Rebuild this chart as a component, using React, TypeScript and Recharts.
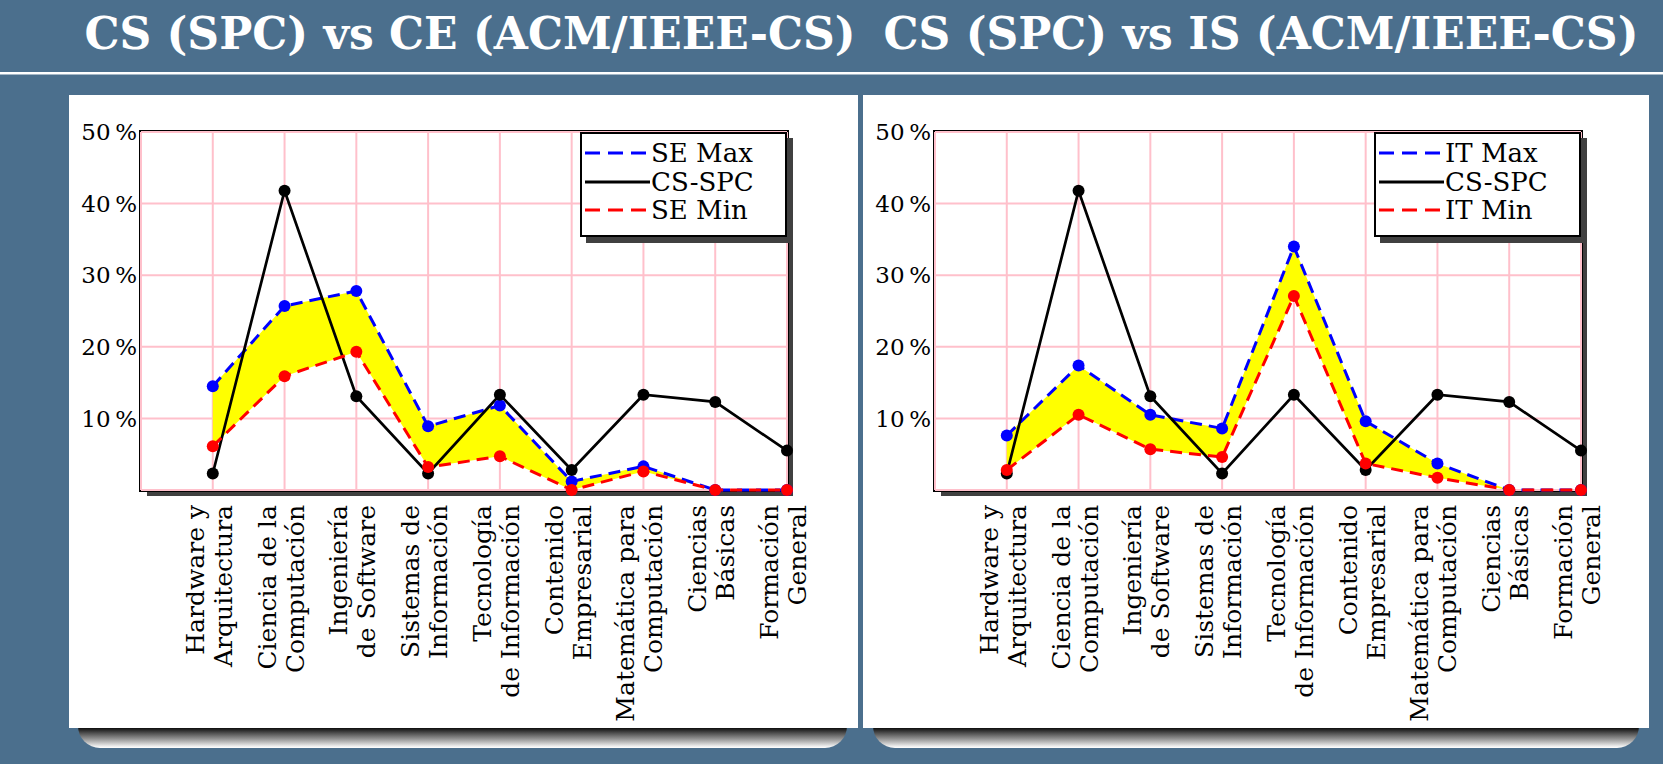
import React from "react";
import { ComposedChart, Area, Line, XAxis, YAxis, CartesianGrid } from "recharts";

// categorias (dos lineas por etiqueta, rotadas)
const categories: string[][] = [
  ["Hardware y", "Arquitectura"],
  ["Ciencia de la", "Computación"],
  ["Ingeniería", "de Software"],
  ["Sistemas de", "Información"],
  ["Tecnología", "de Información"],
  ["Contenido", "Empresarial"],
  ["Matemática para", "Computación"],
  ["Ciencias", "Básicas"],
  ["Formación", "General"],
];

const csSpc = [2.3, 41.8, 13.1, 2.3, 13.3, 2.8, 13.3, 12.3, 5.5];
const seMax = [14.5, 25.7, 27.8, 8.9, 11.8, 1.2, 3.3, 0, 0];
const seMin = [6.1, 15.9, 19.3, 3.2, 4.7, 0, 2.6, 0, 0];
const itMax = [7.6, 17.4, 10.5, 8.6, 34.0, 9.6, 3.7, 0, 0];
const itMin = [2.8, 10.5, 5.7, 4.6, 27.1, 3.7, 1.7, 0, 0];

const yTicks = [10, 20, 30, 40, 50];
const xTicks = [1, 2, 3, 4, 5, 6, 7, 8, 9];

const titles = ["CS (SPC) vs CE (ACM/IEEE-CS)", "CS (SPC) vs IS (ACM/IEEE-CS)"];

const SERIF = "'DejaVu Serif', serif";
const BG = "#4b6f8d";

const PANEL_TOP = 95;
const PANEL_H = 633;
const PLOT_LEFT = 72;
const PLOT_TOP = 37;
const PLOT_W = 646;
const PLOT_H = 358;
const LABEL_TOP = PLOT_TOP + PLOT_H + 15;

const XTick = (props: any) => {
  const { x, payload } = props;
  const lines = categories[payload.value - 1];
  if (!lines) return null;
  return (
    <text
      transform={`translate(${x},${LABEL_TOP}) rotate(-90)`}
      textAnchor="end"
      fontFamily={SERIF}
      fontSize={25}
      fill="#000"
    >
      <tspan x={0} y={-9}>
        {lines[0]}
      </tspan>
      <tspan x={0} y={19}>
        {lines[1]}
      </tspan>
    </text>
  );
};

type LegendItem = { name: string; color: string; dash?: string };

const LegendBox = ({ items, left, top }: { items: LegendItem[]; left: number; top: number }) => {
  const w = 207;
  const h = 105;
  const rows = [21, 50, 78];
  return (
    <>
      <div
        style={{ position: "absolute", left: left + 6, top: top + 6, width: w, height: h, background: "#404040" }}
      />
      <svg width={w} height={h} style={{ position: "absolute", left, top, background: "#fff" }}>
        <rect x={1} y={1} width={w - 2} height={h - 2} fill="#fff" stroke="#000" strokeWidth={2} />
        {items.map((it, i) => (
          <g key={it.name}>
            <line
              x1={5}
              x2={70}
              y1={rows[i]}
              y2={rows[i]}
              stroke={it.color}
              strokeWidth={2.8}
              strokeDasharray={it.dash}
            />
            <text x={71} y={rows[i]} dy="0.36em" fontFamily={SERIF} fontSize={26} fill="#000">
              {it.name}
            </text>
          </g>
        ))}
      </svg>
    </>
  );
};

const Panel = ({
  left,
  width,
  maxVals,
  minVals,
  maxName,
  minName,
}: {
  left: number;
  width: number;
  maxVals: number[];
  minVals: number[];
  maxName: string;
  minName: string;
}) => {
  const data = categories.map((_, i) => ({
    x: i + 1,
    cs: csSpc[i],
    max: maxVals[i],
    min: minVals[i],
    range: [minVals[i], maxVals[i]],
  }));
  const rightMargin = width - PLOT_LEFT - PLOT_W;
  return (
    <div style={{ position: "absolute", left, top: PANEL_TOP, width, height: PANEL_H, background: "#fff" }}>
      <div
        style={{
          position: "absolute",
          left: PLOT_LEFT + 6,
          top: PLOT_TOP + 6,
          width: PLOT_W,
          height: PLOT_H,
          background: "#404040",
        }}
      />
      <div
        style={{
          position: "absolute",
          left: PLOT_LEFT - 2,
          top: PLOT_TOP - 2,
          width: PLOT_W + 4,
          height: PLOT_H + 4,
          boxSizing: "border-box",
          border: "2px solid #000",
          background: "#fff",
        }}
      />
      <div style={{ position: "absolute", left: 0, top: 0 }}>
        <ComposedChart
          width={width}
          height={PANEL_H}
          data={data}
          margin={{ top: PLOT_TOP, right: rightMargin, left: 0, bottom: 0 }}
        >
          <CartesianGrid stroke="#ffc0cb" strokeWidth={2} />
          <XAxis
            dataKey="x"
            type="number"
            domain={[0, 9]}
            ticks={xTicks}
            interval={0}
            height={PANEL_H - PLOT_TOP - PLOT_H}
            axisLine={false}
            tickLine={false}
            tick={<XTick />}
          />
          <YAxis
            type="number"
            domain={[0, 50]}
            ticks={yTicks}
            width={PLOT_LEFT}
            axisLine={false}
            tickLine={false}
            tickSize={0}
            tickMargin={4}
            tickFormatter={(v: number) => `${v}\u2009%`}
            tick={{ fontFamily: SERIF, fontSize: 23, fill: "#000" }}
          />
          <Area
            dataKey="range"
            type="linear"
            stroke="none"
            fill="#ffff00"
            fillOpacity={1}
            isAnimationActive={false}
          />
          <Line
            dataKey="max"
            type="linear"
            stroke="#0000ff"
            strokeWidth={3}
            strokeDasharray="12 7"
            dot={{ r: 6, fill: "#0000ff", stroke: "none" }}
            isAnimationActive={false}
          />
          <Line
            dataKey="cs"
            type="linear"
            stroke="#000"
            strokeWidth={2.7}
            dot={{ r: 6, fill: "#000", stroke: "none" }}
            isAnimationActive={false}
          />
          <Line
            dataKey="min"
            type="linear"
            stroke="#ff0000"
            strokeWidth={3}
            strokeDasharray="12 7"
            dot={{ r: 6, fill: "#ff0000", stroke: "none" }}
            isAnimationActive={false}
          />
        </ComposedChart>
      </div>
      <LegendBox
        left={PLOT_LEFT + PLOT_W - 207}
        top={PLOT_TOP}
        items={[
          { name: maxName, color: "#0000ff", dash: "15 8" },
          { name: "CS-SPC", color: "#000" },
          { name: minName, color: "#ff0000", dash: "15 8" },
        ]}
      />
    </div>
  );
};

const PanelShadow = ({ left, right }: { left: number; right: number }) => (
  <div
    style={{
      position: "absolute",
      left,
      top: 712,
      width: right - left,
      height: 36,
      borderRadius: "0 0 22px 22px",
      background: "linear-gradient(to bottom, #000 0%, #111 45%, #555 60%, #aaa 80%, #eee 95%, #fff 100%)",
    }}
  />
);

export default function App() {
  return (
    <div style={{ position: "absolute", left: 0, top: 0, width: 1663, height: 764, background: BG, overflow: "hidden" }}>
      <svg width={1663} height={80} style={{ position: "absolute", left: 0, top: 0 }}>
        <text x={470} y={49} textAnchor="middle" fontFamily={SERIF} fontWeight="bold" fontSize={44} fill="#fff">
          {titles[0]}
        </text>
        <text x={1261} y={49} textAnchor="middle" fontFamily={SERIF} fontWeight="bold" fontSize={44} fill="#fff">
          {titles[1]}
        </text>
        <rect x={0} y={72} width={1663} height={2.5} fill="#fff" />
      </svg>
      <PanelShadow left={78} right={847} />
      <PanelShadow left={873} right={1639} />
      <Panel left={69} width={789} maxVals={seMax} minVals={seMin} maxName="SE Max" minName="SE Min" />
      <Panel left={863} width={786} maxVals={itMax} minVals={itMin} maxName="IT Max" minName="IT Min" />
    </div>
  );
}
